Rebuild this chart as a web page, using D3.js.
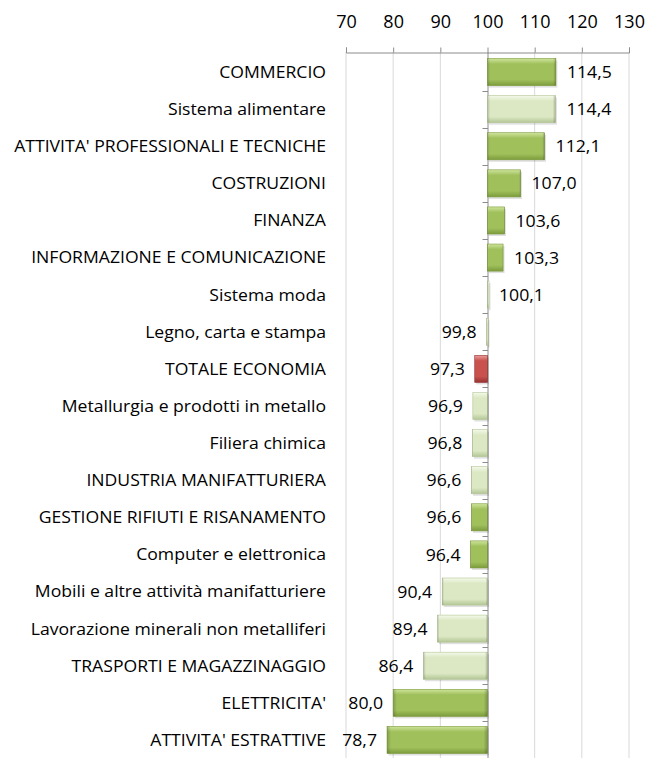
<!DOCTYPE html>
<html>
<head>
<meta charset="utf-8">
<script src="https://cdn.jsdelivr.net/npm/d3@7"></script>
<style>
  body { margin: 0; background: #fff; }
  text { font-family: "Open Sans", Lato, sans-serif; fill: #000; }
</style>
</head>
<body>
<div id="chart"></div>
<script>
// sectors, top to bottom
var categories = [
  "COMMERCIO", "Sistema alimentare", "ATTIVITA' PROFESSIONALI E TECNICHE",
  "COSTRUZIONI", "FINANZA", "INFORMAZIONE E COMUNICAZIONE", "Sistema moda",
  "Legno, carta e stampa", "TOTALE ECONOMIA", "Metallurgia e prodotti in metallo",
  "Filiera chimica", "INDUSTRIA MANIFATTURIERA", "GESTIONE RIFIUTI E RISANAMENTO ",
  "Computer e elettronica", "Mobili e altre attività manifatturiere",
  "Lavorazione minerali non metalliferi", "TRASPORTI E MAGAZZINAGGIO",
  "ELETTRICITA'", "ATTIVITA' ESTRATTIVE"
];
var values = [114.5, 114.4, 112.1, 107.0, 103.6, 103.3, 100.1, 99.8, 97.3, 96.9,
              96.8, 96.6, 96.6, 96.4, 90.4, 89.4, 86.4, 80.0, 78.7];
// d = dark green (macro sector), l = light green (sub sector), t = total
var kinds = ["d","l","d","d","d","d","l","l","t","l","l","l","d","d","l","l","l","d","d"];
var ticks = [70, 80, 90, 100, 110, 120, 130];

var W = 646, H = 758;
var svg = d3.select("#chart").append("svg").attr("width", W).attr("height", H);

var x = d3.scaleLinear().domain([70, 130]).range([346, 629]);
var y = d3.scaleBand().domain(categories).range([53.5, 758.5]).paddingInner(0.27).paddingOuter(0.135);
var base = 100;

var pal = {
  d: ["#cfe59c", "#a0c05c", "#7c9b3b"],
  l: ["#f4f9ea", "#dce8c4", "#b3c695"],
  t: ["#eaa09d", "#c9524e", "#963231"]
};
var defs = svg.append("defs");
Object.keys(pal).forEach(function (k) {
  var g = defs.append("linearGradient").attr("id", "g" + k)
    .attr("x1", 0).attr("y1", 0).attr("x2", 0).attr("y2", 1);
  g.append("stop").attr("offset", "0").attr("stop-color", pal[k][0]);
  g.append("stop").attr("offset", "0.2").attr("stop-color", pal[k][1]);
  g.append("stop").attr("offset", "0.78").attr("stop-color", pal[k][1]);
  g.append("stop").attr("offset", "1").attr("stop-color", pal[k][2]);
});
var side = defs.append("linearGradient").attr("id", "side")
  .attr("x1", 0).attr("y1", 0).attr("x2", 1).attr("y2", 0);
side.append("stop").attr("offset", "0").attr("stop-color", "#000").attr("stop-opacity", 0.18);
side.append("stop").attr("offset", "0.04").attr("stop-color", "#000").attr("stop-opacity", 0);
side.append("stop").attr("offset", "0.96").attr("stop-color", "#000").attr("stop-opacity", 0);
side.append("stop").attr("offset", "1").attr("stop-color", "#000").attr("stop-opacity", 0.22);

// grid lines
svg.append("g").selectAll("line").data(ticks.filter(function (t) { return t !== base; }))
  .enter().append("line")
  .attr("x1", function (d) { return x(d); }).attr("x2", function (d) { return x(d); })
  .attr("y1", 52).attr("y2", H)
  .attr("stroke", "#d9d9d9").attr("stroke-width", 1);

// value axis on top
var xAxis = d3.axisTop(x).tickValues(ticks).tickSize(5).tickPadding(20)
  .tickFormat(d3.format("d"));
var ax = svg.append("g").attr("transform", "translate(0,52.5)").call(xAxis);
ax.select(".domain").attr("stroke", "#8c8c8c");
ax.selectAll(".tick line").attr("stroke", "#8c8c8c");
ax.selectAll(".tick text").attr("font-size", 18).attr("font-family", "'Open Sans', sans-serif");

// category axis at the 100 baseline
var cat = svg.append("g");
cat.append("line").attr("x1", x(base) + 0.5).attr("x2", x(base) + 0.5)
  .attr("y1", 52).attr("y2", H).attr("stroke", "#8c8c8c");
var step = y.step();
cat.selectAll("line.tk").data(d3.range(1, categories.length)).enter().append("line")
  .attr("class", "tk")
  .attr("x1", x(base) - 5).attr("x2", x(base) + 0.5)
  .attr("y1", function (i) { return Math.round(53.5 + i * step) + 0.5; })
  .attr("y2", function (i) { return Math.round(53.5 + i * step) + 0.5; })
  .attr("stroke", "#8c8c8c");

// bars
var rows = categories.map(function (c, i) { return { c: c, v: values[i], k: kinds[i] }; });
var bars = svg.append("g").selectAll("g").data(rows).enter().append("g");
function bx(d) { return Math.min(x(base), x(d.v)); }
function bw(d) { return Math.max(1.5, Math.abs(x(d.v) - x(base))); }
bars.append("rect")
  .attr("x", function (d) { return bx(d) + 1.5; })
  .attr("y", function (d) { return y(d.c) + 2; })
  .attr("width", bw).attr("height", y.bandwidth())
  .attr("fill", "#000").attr("opacity", 0.12);
bars.append("rect")
  .attr("x", bx).attr("y", function (d) { return y(d.c); })
  .attr("width", bw).attr("height", y.bandwidth())
  .attr("fill", function (d) { return "url(#g" + d.k + ")"; })
  .attr("stroke", function (d) { return pal[d.k][2]; }).attr("stroke-width", 0.6);
bars.append("rect")
  .attr("x", bx).attr("y", function (d) { return y(d.c); })
  .attr("width", bw).attr("height", y.bandwidth())
  .attr("fill", "url(#side)");

// value labels (slightly wider glyphs in the original)
var fmt = function (v) { return v.toFixed(1).replace(".", ","); };
bars.append("text")
  .attr("transform", function (d) {
    var tx = d.v >= base ? x(d.v) + 11 : x(d.v) - 10;
    return "translate(" + tx + "," + (y(d.c) + y.bandwidth() / 2) + ") scale(1.04,1)";
  })
  .attr("dy", "0.36em")
  .attr("text-anchor", function (d) { return d.v >= base ? "start" : "end"; })
  .attr("font-size", 17)
  .text(function (d) { return fmt(d.v); });

// category labels
svg.append("g").selectAll("text").data(rows).enter().append("text")
  .attr("transform", function (d) {
    return "translate(326," + (y(d.c) + y.bandwidth() / 2) + ") scale(1.08,1)";
  })
  .attr("dy", "0.36em")
  .attr("text-anchor", "end")
  .attr("font-size", 16.3)
  .text(function (d) { return d.c; });
</script>
</body>
</html>
